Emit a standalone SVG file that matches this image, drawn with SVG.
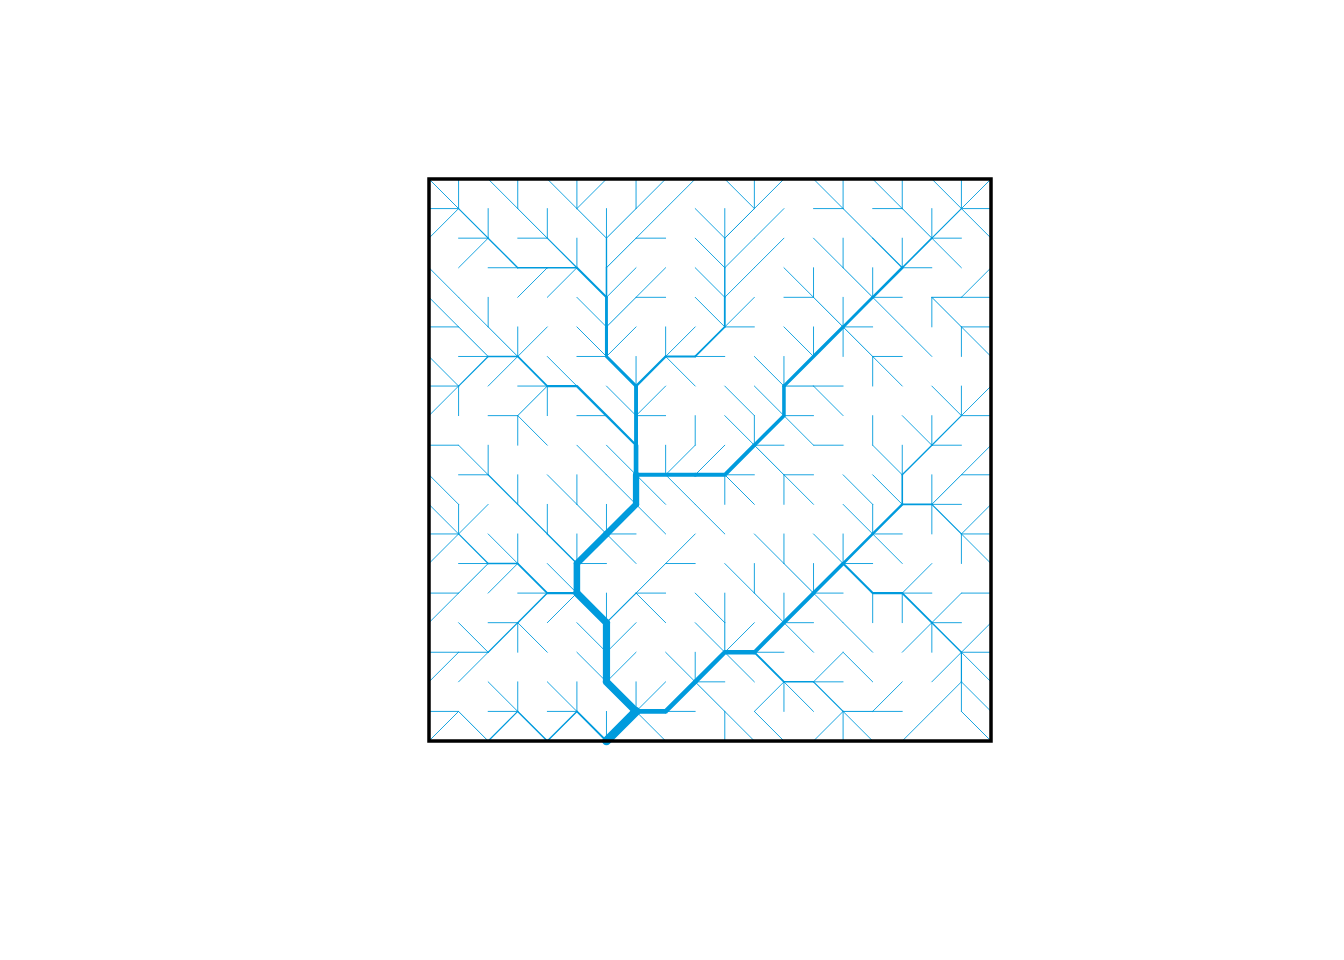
<svg xmlns="http://www.w3.org/2000/svg" width="1344" height="960" viewBox="0 0 1344 960">
<style>
.net path{fill:none;stroke:#009BDD;stroke-linecap:round;stroke-linejoin:round;vector-effect:non-scaling-stroke}
.t{stroke-width:0.9}
.a{stroke-width:1.0}
.b{stroke-width:1.2}
</style>
<rect width="1344" height="960" fill="#fff"/>
<g id="connectors" class="net" transform="translate(429 179) scale(29.5789)">
<path class="t" d="M0 0l1 1M1 0l0 1M2 0l1 1M3 0l0 1M4 0l1 1M5 0l0 1M6 0l-1 1M7 0l0 1M8 0l-1 1M9 0l-1 1M10 0l1 1M11 0l0 1M12 0l-1 1M13 0l1 1M14 0l0 1M15 0l1 1M16 0l0 1M17 0l1 1M18 0l0 1M19 0l-1 1
M0 1l1 0M2 1l0 1M4 1l0 1M6 1l0 1M8 1l-1 1M9 1l1 1M10 1l0 1M12 1l-1 1M13 1l1 0M15 1l1 0M17 1l0 1M19 1l-1 0
M0 2l1 -1M1 2l1 0M3 2l1 0M5 2l0 1M8 2l-1 0M9 2l1 1M11 2l-1 1M12 2l-1 1M13 2l1 1M14 2l0 1M16 2l0 1M18 2l-1 0M19 2l-1 -1
M0 3l1 1M1 3l1 -1M2 3l1 0M7 3l-1 1M8 3l-1 1M9 3l1 1M11 3l-1 1M12 3l1 1M13 3l0 1M15 3l0 1M17 3l-1 0M18 3l-1 -1M19 3l-1 1
M0 4l1 1M1 4l1 1M2 4l0 1M3 4l1 -1M4 4l1 -1M5 4l1 1M8 4l-1 0M9 4l1 1M11 4l-1 1M12 4l1 0M14 4l0 1M16 4l-1 0M19 4l-1 0
M0 5l1 0M3 5l0 1M4 5l-1 1M5 5l1 1M7 5l-1 1M8 5l0 1M9 5l-1 1M11 5l-1 0M12 5l1 1M13 5l0 1M15 5l-1 0M16 5l-1 -1M17 5l0 -1M19 5l-1 0
M0 6l1 1M1 6l1 0M4 6l1 1M5 6l1 0M7 6l0 1M10 6l-1 0M11 6l1 1M12 6l0 1M14 6l0 -1M16 6l-1 0M17 6l-1 -1M18 6l0 -1M19 6l-1 -1
M0 7l1 0M2 7l1 -1M3 7l1 0M6 7l1 1M8 7l-1 1M9 7l-1 -1M10 7l1 1M11 7l1 1M14 7l-1 0M15 7l0 -1M16 7l-1 -1M17 7l1 1M18 7l0 1M19 7l-1 1
M0 8l1 -1M1 8l0 -1M2 8l1 0M4 8l0 -1M5 8l1 0M8 8l-1 0M9 8l0 1M10 8l1 1M11 8l0 1M13 8l-1 0M14 8l-1 -1M15 8l0 1M16 8l1 1M17 8l0 1M19 8l-1 0
M0 9l1 0M1 9l1 1M2 9l0 1M3 9l0 -1M4 9l-1 -1M5 9l1 1M6 9l1 1M8 9l0 1M9 9l-1 1M10 9l-1 1M12 9l-1 0M13 9l-1 -1M14 9l-1 0M15 9l1 1M16 9l0 1M18 9l-1 0M19 9l-1 1
M0 10l1 1M1 10l1 0M3 10l0 1M4 10l1 1M5 10l0 1M6 10l1 1M11 10l-1 0M13 10l-1 0M14 10l1 1M15 10l1 1M17 10l0 1M19 10l-1 0
M0 11l1 1M1 11l0 1M2 11l-1 1M4 11l0 1M6 11l0 1M8 11l-1 -1M9 11l-1 -1M10 11l0 -1M11 11l-1 -1M12 11l0 -1M13 11l-1 -1M14 11l1 1M15 11l0 1M18 11l-1 0M19 11l-1 1
M0 12l1 0M2 12l1 1M3 12l0 1M5 12l0 1M7 12l-1 0M8 12l-1 -1M9 12l-1 1M10 12l-1 -1M11 12l1 1M12 12l0 1M13 12l1 1M14 12l0 1M16 12l-1 0M17 12l0 -1M19 12l-1 0
M0 13l1 -1M1 13l1 0M4 13l1 1M6 13l-1 0M7 13l-1 -1M9 13l-1 0M10 13l1 1M11 13l0 1M13 13l0 1M15 13l-1 0M16 13l-1 -1M17 13l-1 1M18 13l0 -1M19 13l-1 -1
M0 14l1 0M2 14l1 -1M3 14l1 0M6 14l0 1M8 14l-1 0M9 14l1 1M10 14l0 1M12 14l0 1M14 14l-1 0M17 14l-1 0M18 14l-1 1M19 14l-1 0
M0 15l1 -1M1 15l1 1M2 15l1 0M4 15l1 -1M5 15l1 1M7 15l-1 1M8 15l-1 -1M9 15l1 1M11 15l-1 1M13 15l-1 0M14 15l-1 -1M15 15l0 -1M16 15l0 -1M18 15l-1 0M19 15l-1 1
M0 16l1 0M3 16l0 -1M4 16l-1 -1M5 16l1 1M7 16l-1 1M8 16l1 1M9 16l0 1M12 16l-1 0M13 16l-1 -1M14 16l-1 1M15 16l-1 -1M16 16l1 -1M17 16l0 -1M19 16l-1 0
M0 17l1 -1M1 17l1 -1M2 17l1 1M3 17l0 1M4 17l1 1M5 17l0 1M7 17l0 1M8 17l-1 1M10 17l-1 0M11 17l-1 -1M14 17l-1 0M15 17l-1 -1M16 17l-1 1M17 17l1 -1M19 17l-1 -1
M0 18l1 0M2 18l1 0M4 18l1 0M6 18l0 1M9 18l-1 0M11 18l1 -1M12 18l0 -1M13 18l-1 -1M16 18l-1 0M17 18l1 -1M18 18l0 -1M19 18l-1 -1
M0 19l1 -1M8 19l-1 -1M10 19l0 -1M11 19l-1 -1M12 19l-1 -1M13 19l1 -1M14 19l0 -1M15 19l-1 -1M16 19l1 -1M19 19l-1 -1"/>
<path class="a" d="M3 1l1 1M5 1l1 1M7 1l-1 1M11 1l-1 1M14 1l1 1M16 1l1 1M7 2l-1 1M14 3l1 1M7 4l-1 1M13 4l1 1M18 4l-1 0M1 5l1 1M2 5l1 1M18 5l-1 -1M15 6l-1 -1M13 7l-1 0M3 8l1 -1M12 10l-1 -1M18 10l-1 1M5 11l1 1M8 13l-1 1M12 13l1 1M1 14l1 -1M11 14l1 1M10 15l0 1M1 16l1 0M1 18l1 1M10 18l-1 -1M15 18l-1 0"/>
<path class="b" d="M1 1l1 1M18 1l-1 1M4 2l1 1M10 2l0 1M15 2l1 1M1 7l1 -1M18 8l-1 1M2 10l1 1M3 11l1 1M1 12l1 1M18 12l-1 -1M7 14l-1 1M2 16l1 -1M18 17l0 -1M14 18l-1 -1M2 19l1 -1"/>
<path stroke-width="1.35" d="M2 2l1 1M6 2l0 1M17 9l-1 1M4 12l1 1"/>
<path stroke-width="1.45" d="M3 3l1 0M10 3l0 1M2 6l1 0M3 15l1 -1M3 18l1 1M4 19l1 -1M18 16l-1 -1M13 17l-1 0"/>
<path stroke-width="1.6" d="M4 3l1 0M6 3l0 1M17 2l-1 1M17 11l-1 0M16 10l0 1M2 13l1 0"/>
<path stroke-width="1.8" d="M10 4l0 1M3 13l1 1M12 17l-1 -1M17 15l-1 -1M5 18l1 1M3 6l1 1M10 5l-1 1"/>
<path stroke-width="2.1" d="M5 3l1 1M9 6l-1 0M16 14l-1 0M15 14l-1 -1"/>
<path stroke-width="2.35" d="M4 7l1 0M8 6l-1 1M5 7l1 1M4 14l1 0M16 11l-1 1M6 8l1 1"/>
<path stroke-width="2.6" d="M16 3l-1 1M15 12l-1 1"/>
<path stroke-width="2.85" d="M6 4l0 1M15 4l-1 1"/>
<path stroke-width="3.05" d="M6 5l0 1M6 6l1 1"/>
<path stroke-width="3.3" d="M14 5l-1 1M13 6l-1 1"/>
<path stroke-width="3.55" d="M12 7l0 1M14 13l-1 1M12 8l-1 1"/>
<path stroke-width="3.9" d="M13 14l-1 1M7 7l0 1M11 9l-1 1M12 15l-1 1M7 8l0 1M10 10l-1 0"/>
<path stroke-width="4.1" d="M9 10l-1 0M8 10l-1 0"/>
<path stroke-width="4.45" d="M11 16l-1 0M10 16l-1 1"/>
<path stroke-width="4.65" d="M7 9l0 1M9 17l-1 1M8 18l-1 0"/>
<path stroke-width="6.3" d="M7 10l0 1M7 11l-1 1"/>
<path stroke-width="6.55" d="M6 12l-1 1M5 13l0 1"/>
<path stroke-width="7.2" d="M5 14l1 1M6 15l0 1M6 16l0 1M6 17l1 1"/>
<path stroke-width="8.7" d="M7 18l-1 1"/>
</g>
<g id="frame">
<rect x="429" y="179" width="562" height="562" fill="none" stroke="#000" stroke-width="3.5"/>
</g>
</svg>
